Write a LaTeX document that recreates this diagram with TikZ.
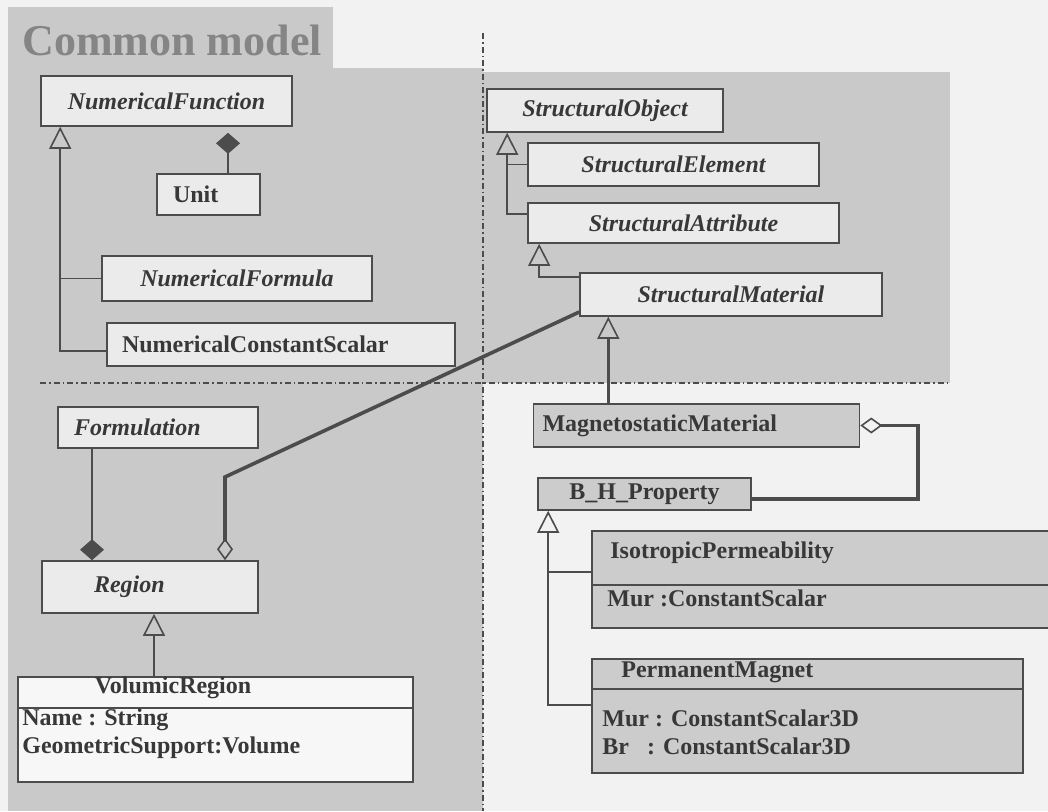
\documentclass[tikz,border=0pt]{standalone}
\usepackage{fontspec}
\setmainfont{Liberation Serif}
\usetikzlibrary{arrows.meta}

\definecolor{pagebg}{gray}{0.95}
\definecolor{panel}{gray}{0.79}
\definecolor{boxlight}{gray}{0.92}
\definecolor{boxwhite}{gray}{0.97}
\definecolor{boxdark}{gray}{0.80}
\definecolor{edge}{gray}{0.30}
\definecolor{ink}{gray}{0.22}
\definecolor{headink}{gray}{0.52}

\newcommand{\clsfont}{\fontsize{12}{14}\selectfont\bfseries}

\begin{document}
\begin{tikzpicture}[
    x=0.5pt, y=-0.5pt,
    cls/.style={rectangle, draw=edge, line width=0.8pt, fill=boxlight, inner sep=0pt,
                text=ink, font=\clsfont, align=center},
    abstr/.style={cls, font=\clsfont\itshape},
    lbl/.style={inner sep=0pt, anchor=west, text=ink, font=\clsfont, align=left},
    link/.style={draw=edge, line width=0.8pt},
    gen/.style={link, -{Triangle[open, length=11pt 0, width=11pt 0, line width=0.8pt 0]}},
    comp/.style={link, -{Diamond[length=10.5pt 0, width=12pt 0]}, fill=edge},
    aggr/.style={link, -{Diamond[open, length=11pt 0, width=8pt 0, line width=0.8pt 0]}},
    bold/.style={line width=1.8pt},
    sep/.style={draw=edge, line width=0.8pt, dash pattern=on 3pt off 1.5pt on 0.8pt off 1.5pt},
]
    \clip (0,0) rectangle (1048,811);
    \fill[pagebg] (0,0) rectangle (1048,811);

    % gray panels
    \fill[panel] (8,7) rectangle (333,68);
    \fill[panel] (8,68) rectangle (483,811);
    \fill[panel] (483,72) rectangle (950,383);
    \node[anchor=base west, inner sep=0pt, text=headink,
          font=\fontsize{22}{24}\selectfont\bfseries] (head) at (22,55) {Common model};

    \draw[sep] (483,33) -- (483,811);
    \draw[sep] (40,383) -- (950,383);

    % numerical functions
    \node[abstr, minimum width=125.5pt, minimum height=25pt] (numfun) at (166.5,101) {NumericalFunction};
    \node[cls, minimum width=51.5pt, minimum height=20.5pt, text width=35.5pt,
          inner xsep=8pt, align=left] (unit) at (208.5,194.5) {Unit};
    \node[abstr, minimum width=135pt, minimum height=22.5pt] (numform) at (237,278.5) {NumericalFormula};
    \node[cls, minimum width=174pt, minimum height=21.5pt, text width=159pt,
          inner xsep=7.5pt, align=left] (numconst) at (281,344.5) {NumericalConstantScalar};

    % structural objects
    \node[abstr, minimum width=118pt, minimum height=21.5pt] (sobj) at (605,110.5) {StructuralObject};
    \node[abstr, minimum width=145.5pt, minimum height=21.5pt] (selem) at (673.5,164.5) {StructuralElement};
    \node[abstr, minimum width=155.5pt, minimum height=20pt] (sattr) at (683.5,223) {StructuralAttribute};
    \node[abstr, minimum width=151pt, minimum height=21.5pt] (smat) at (731,294.5) {StructuralMaterial};

    % formulation side
    \node[abstr, minimum width=100pt, minimum height=20.5pt, text width=84pt,
          inner xsep=8pt, align=left] (formul) at (158,427.5) {Formulation};
    \node[abstr, minimum width=108pt, minimum height=26pt, text width=56pt,
          inner xsep=26pt, align=left] (region) at (150,587) {Region};
    \node[cls, fill=boxwhite, minimum width=197.5pt, minimum height=52.5pt] (volreg) at (215.5,729.5) {};
    \draw[link] ([yshift=10.75pt]volreg.west) -- ([yshift=10.75pt]volreg.east);
    \node[lbl, anchor=center] (volname) at (173,688) {VolumicRegion};
    \node[lbl] (volattr) at (22,734) {Name : String\\GeometricSupport:Volume};

    % magnetostatic material
    \node[cls, fill=boxdark, minimum width=158.5pt, minimum height=21.5pt, text width=154pt,
          inner xsep=4.5pt, align=left] (magmat) at (696.5,425.5) {MagnetostaticMaterial};
    \node[cls, fill=boxdark, minimum width=106.5pt, minimum height=16pt] (bhprop) at (644.5,494) {B\_H\_Property};

    \node[cls, fill=boxdark, minimum width=239pt, minimum height=48.5pt] (isoperm) at (831,579.5) {};
    \draw[link] ([yshift=-2.75pt]isoperm.west) -- ([yshift=-2.75pt]isoperm.east);
    \node[lbl] (isoname) at (610,553) {IsotropicPermeability};
    \node[lbl] (isoattr) at (607,598) {Mur :ConstantScalar};

    \node[cls, fill=boxdark, minimum width=215.5pt, minimum height=57pt] (permag) at (807.5,716) {};
    \draw[link] ([yshift=13.5pt]permag.west) -- ([yshift=13.5pt]permag.east);
    \node[lbl] (pmname) at (621,672) {PermanentMagnet};
    \node[lbl] (pmattr) at (602,732) {Mur : ConstantScalar3D\\Br\hspace{0.75em}: ConstantScalar3D};

    % inheritance
    \coordinate (nfbase) at ([xshift=10pt]numfun.south west);
    \draw[gen] ([yshift=-3.25pt]numconst.west) -| (nfbase);
    \draw[link] (numform.west) -- (numform.west -| nfbase);

    \coordinate (sobase) at ([xshift=10.5pt]sobj.south west);
    \draw[gen] ([yshift=4.5pt]sattr.west) -| (sobase);
    \draw[link] (selem.west) -- (selem.west -| sobase);
    \coordinate (sabase) at ([xshift=6pt]sattr.south west);
    \draw[gen] ([yshift=8.75pt]smat.west) -| (sabase);
    \coordinate (mmtop) at ([xshift=37.8pt]magmat.north west);
    \draw[gen, bold] (mmtop) -- (mmtop |- smat.south);

    \coordinate (rgbase) at ([xshift=2pt]region.south);
    \draw[gen] (rgbase |- volreg.north) -- (rgbase);

    \coordinate (bhbase) at ([xshift=5.5pt]bhprop.south west);
    \draw[gen] ([yshift=5.5pt]permag.west) -| (bhbase);
    \coordinate (isojoin) at ([yshift=3.75pt]isoperm.west);
    \draw[link] (isojoin) -- (isojoin -| bhbase);

    % composition and aggregation
    \coordinate (unittop) at ([xshift=9.75pt]unit.north);
    \draw[comp, shorten >=3pt] (unittop) -- (unittop |- numfun.south);
    \coordinate (formfoot) at ([xshift=-33pt]formul.south);
    \draw[comp] (formfoot) -- (formfoot |- region.north);

    \coordinate (regagg) at ([xshift=37.5pt]region.north);
    \coordinate (regbend) at (225,477);
    \draw[aggr, bold] ([yshift=-8.75pt]smat.west) -- (regbend) -- (regagg);

    \draw[aggr, bold] ([yshift=-2.5pt]bhprop.east) -- ++(83pt,0) |- (magmat.east);
\end{tikzpicture}
\end{document}
